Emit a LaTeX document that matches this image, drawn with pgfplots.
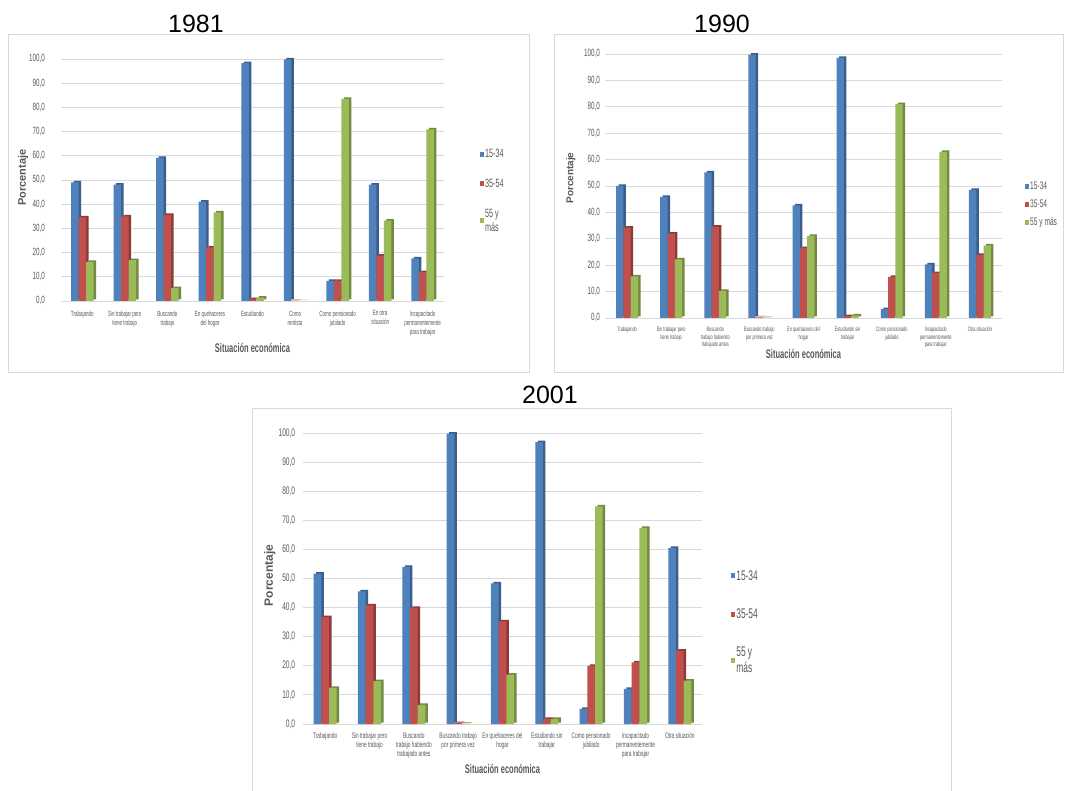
\documentclass[border=0pt]{standalone}
\usepackage{fontspec}
\setmainfont{Liberation Sans}
\newfontfamily\cond[FakeStretch=0.6]{Liberation Sans}
\usepackage{pgfplots}
\usepackage{pgfplotstable}
\pgfplotsset{compat=1.18}

\definecolor{bA}{HTML}{4F81BD}
\definecolor{bAd}{HTML}{3A5F8C}
\definecolor{bB}{HTML}{C0504D}
\definecolor{bBd}{HTML}{8E3B38}
\definecolor{bC}{HTML}{9BBB59}
\definecolor{bCd}{HTML}{728A41}
\definecolor{gridc}{HTML}{D9D9D9}
\definecolor{txt}{HTML}{595959}

% 15-34 (a), 35-54 (b), 55 y mas (c)
\pgfplotstableread{
x a b c
0 49.0 34.6 16.2
1 48.1 35.0 16.9
2 59.1 35.6 5.3
3 41.1 22.2 36.6
4 98.3 0.8 1.4
5 99.8 0.2 0.1
6 8.3 8.3 83.5
7 48.1 18.7 33.2
8 17.6 11.9 70.9
}\tA

\pgfplotstableread{
x a b c
0 50.0 34.2 15.8
1 45.9 32.0 22.2
2 55.2 34.6 10.3
3 99.8 0.2 0.1
4 42.7 26.5 31.1
5 98.5 0.7 1.0
6 3.4 15.6 81.0
7 20.3 17.0 62.9
8 48.5 23.9 27.5
}\tB

\pgfplotstableread{
x a b c
0 51.7 36.7 12.4
1 45.6 40.8 14.7
2 54.0 39.9 6.6
3 99.8 0.3 0.1
4 48.3 35.3 17.0
5 96.9 1.8 1.8
6 5.2 20.0 74.8
7 12.1 21.2 67.4
8 60.5 25.2 14.9
}\tC

\pgfplotsset{
  panel/.style={
    scale only axis, ybar, bar width=#1, clip=false,
    xmin=-0.5, xmax=8.5, ymin=0, ymax=100,
    xtick={0,...,8}, ytick={0,10,...,100},
    ymajorgrids, grid style={draw=gridc, line width=0.9pt},
    axis line style={draw=none}, tick style={draw=none},
    /pgf/number format/fixed, /pgf/number format/fixed zerofill,
    /pgf/number format/precision=1, /pgf/number format/use comma,
    /pgf/number format/assume math mode=true,
    yticklabel style={text=txt, anchor=east},
    xticklabel style={text=txt, align=center, anchor=north},
    ylabel=Porcentaje, xlabel={Situación económica},
    ylabel style={anchor=center, text=txt},
    xlabel style={anchor=center, text=txt},
    legend style={draw=none, fill=none, inner sep=0pt, anchor=west,
      text=txt, cells={anchor=west, align=center}, nodes={inner sep=1pt}},
    legend image code/.code={\fill[##1] (0pt,-2.5pt) rectangle (4pt,2.5pt);},
  }
}

\newcommand{\bars}[2]{%
  \addplot[fill=bAd, draw=none, bar shift=-#2, xshift=2.5pt, yshift=1.5pt, forget plot] table[x=x,y=a]{#1};
  \addplot[fill=bBd, draw=none, bar shift=0pt, xshift=2.5pt, yshift=1.5pt, forget plot] table[x=x,y=b]{#1};
  \addplot[fill=bCd, draw=none, bar shift=#2, xshift=2.5pt, yshift=1.5pt, forget plot] table[x=x,y=c]{#1};
  \addplot[fill=bA, draw=none, bar shift=-#2] table[x=x,y=a]{#1};
  \addplot[fill=bB, draw=none, bar shift=0pt] table[x=x,y=b]{#1};
  \addplot[fill=bC, draw=none, bar shift=#2] table[x=x,y=c]{#1};
}

\begin{document}
\begin{tikzpicture}[x=1pt,y=1pt]
\path[use as bounding box] (0,0) rectangle (1065,790);
\fill[white] (0,0) rectangle (1065,790);

% frames
\draw[gridc, line width=1pt] (8,755) rectangle (529,417);
\draw[gridc, line width=1pt] (554,755) rectangle (1063,417);
\draw[gridc, line width=1pt] (252,-3) -- (252,381) -- (951,381) -- (951,-3);

% titles
\node[font=\fontsize{25}{30}\selectfont] at (196,766) {1981};
\node[font=\fontsize{25}{30}\selectfont] at (722,766) {1990};
\node[font=\fontsize{25}{30}\selectfont] at (550,395.5) {2001};

% 1981
\begin{axis}[panel=7.5pt, at={(61pt,489pt)}, anchor=south west,
  width=383pt, height=242pt,
  yticklabel style={font=\cond\fontsize{10.5}{12}\selectfont, xshift=-12.7pt},
  xticklabel style={font=\cond\fontsize{7.5}{9}\selectfont, yshift=-2pt},
  xticklabels={Trabajando, {Sin trabajar pero\\tiene trabajo}, {Buscando\\trabajo},
    {En quehaceres\\del hogar}, Estudiando, {Como\\rentista},
    {Como pensionado\\jubilado}, {En otra\\situación},
    {Incapacitado\\permanentemente\\para trabajar}},
  ylabel style={at={(axis description cs:-0.099,0.51)}, font=\bfseries\fontsize{11}{13}\selectfont},
  xlabel style={at={(axis description cs:0.5,-0.194)}, font=\cond\bfseries\fontsize{12.5}{14}\selectfont},
  legend style={at={(1.094,0.455)}, font=\cond\fontsize{12}{14}\selectfont, row sep=18pt},
]
\bars{\tA}{7.5pt}
\legend{15-34,35-54,{55 y\\más}}
\end{axis}

% 1990
\begin{axis}[panel=7.3pt, at={(605pt,472pt)}, anchor=south west,
  width=397pt, height=264pt,
  yticklabel style={font=\cond\fontsize{10.5}{12}\selectfont, xshift=-1.7pt},
  xticklabel style={font=\cond\fontsize{6.5}{7.5}\selectfont, yshift=-1pt},
  xticklabels={Trabajando, {Sin trabajar pero\\tiene trabajo},
    {Buscando\\trabajo habiendo\\trabajado antes},
    {Buscando trabajo\\por primera vez}, {En quehaceres del\\hogar},
    {Estudiando sin\\trabajar}, {Como pensionado\\jubilado},
    {Incapacitado\\permanentemente\\para trabajar}, Otra situación},
  ylabel style={at={(axis description cs:-0.086,0.53)}, font=\bfseries\fontsize{10}{12}\selectfont},
  xlabel style={at={(axis description cs:0.5,-0.136)}, font=\cond\bfseries\fontsize{12.5}{14}\selectfont},
  legend style={at={(1.058,0.43)}, font=\cond\fontsize{11}{13}\selectfont, row sep=7pt},
]
\bars{\tB}{7.3pt}
\legend{15-34,35-54,55 y más}
\end{axis}

% 2001
\begin{axis}[panel=7.7pt, at={(303pt,66pt)}, anchor=south west,
  width=399pt, height=291pt,
  yticklabel style={font=\cond\fontsize{11}{13}\selectfont, xshift=-4.3pt},
  xticklabel style={font=\cond\fontsize{8}{9.2}\selectfont, yshift=-1pt},
  xticklabels={Trabajando, {Sin trabajar pero\\tiene trabajo},
    {Buscando\\trabajo habiendo\\trabajado antes},
    {Buscando trabajo\\por primera vez}, {En quehaceres del\\hogar},
    {Estudiando sin\\trabajar}, {Como pensionado\\jubilado},
    {Incapacitado\\permanentemente\\para trabajar}, Otra situación},
  ylabel style={at={(axis description cs:-0.083,0.51)}, font=\bfseries\fontsize{12}{14}\selectfont},
  xlabel style={at={(axis description cs:0.5,-0.155)}, font=\cond\bfseries\fontsize{12.5}{14}\selectfont},
  legend style={at={(1.073,0.35)}, font=\cond\fontsize{14}{16}\selectfont, row sep=25pt},
]
\bars{\tC}{7.7pt}
\legend{15-34,35-54,{55 y\\más}}
\end{axis}
\end{tikzpicture}
\end{document}
